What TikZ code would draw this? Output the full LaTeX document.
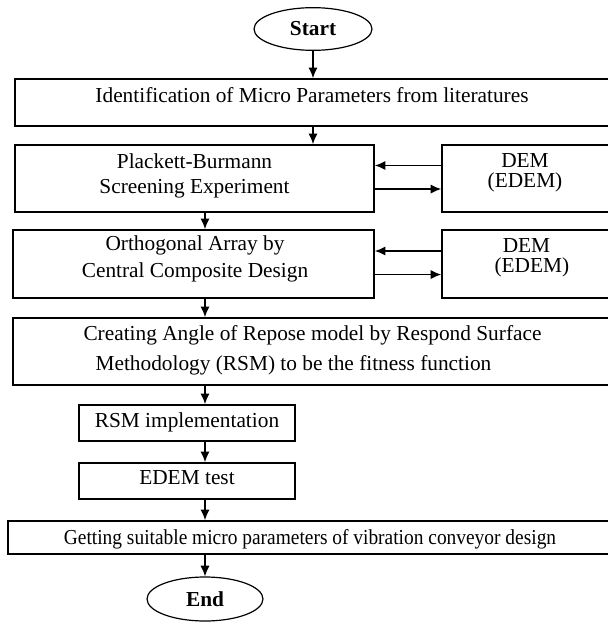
\documentclass[tikz,border=0pt]{standalone}
\usepackage{fontspec}
\setmainfont{Liberation Serif}
\usetikzlibrary{fit,shapes.geometric,arrows.meta}

\begin{document}
\begin{tikzpicture}[x=0.75pt,y=-0.75pt]
\tikzset{box/.style={draw=black,line width=1.2pt,inner sep=0mm}}
\tikzset{oval/.style={draw=black,ellipse,line width=0.9pt,inner sep=0mm,minimum width=88.5pt,minimum height=32pt,font=\fontsize{16}{19}\selectfont\bfseries}}
\tikzset{txt/.style={align=center,inner sep=0mm,font=\fontsize{16}{19.2}\selectfont}}
\tikzset{arrow/.style={draw=black,->,>={Latex[length=8pt,width=7pt]},line width=1.1pt}}

\useasboundingbox (0,0) rectangle (607,624);

\node[oval] (start) at (313,29) {Start};
\node[oval,minimum width=87pt,minimum height=33pt] (fin) at (205,599) {End};

\node[box,fit={(15,79) (609,126)}] (ident) {};
\node[box,fit={(15,145) (374,212)}] (pb) {};
\node[box,fit={(442,145) (609,212)}] (dem1) {};
\node[box,fit={(13,230) (374,298)}] (oa) {};
\node[box,fit={(442,230) (609,298)}] (dem2) {};
\node[box,fit={(13,318) (612,385)}] (model) {};
\node[box,fit={(79,405) (295,441)}] (impl) {};
\node[box,fit={(79,463) (295,499)}] (test) {};
\node[box,fit={(8,521) (612,554)}] (result) {};

\node[txt] (ident-t) at (312,95) {Identification of Micro Parameters from literatures};
\node[txt] (pb-t) at (194.5,176) {Plackett-Burmann\\Screening Experiment};
\node[txt] (dem1-t) at (525,173) {DEM\\[-4.5pt](EDEM)};
\node[txt] (oa-t) at (195,259) {Orthogonal Array by\\[1pt]Central Composite Design};
\node[txt] (dem2-t) at (526.5,257.5) {DEM\\[-4.5pt]\hspace*{8pt}(EDEM)};
\node[txt] (model-t) at (312.5,350) {Creating Angle of Repose model by Respond Surface\\[3.3pt]\hspace*{-28.5pt}Methodology (RSM) to be the fitness function};
\node[txt] (impl-t) at (187,422) {RSM implementation};
\node[txt] (test-t) at (187,478) {EDEM test};
\node[txt] (result-t) at (310,539) {\scalebox{0.91}[1]{Getting suitable micro parameters of vibration conveyor design}};

\draw[arrow] (start.south) -- (start.south |- ident.north);
\draw[arrow] (ident.south -| start) -- (pb.north -| start);

\foreach \a/\b in {pb/oa,oa/model,model/impl,impl/test,test/result,result/fin} {
  \draw[arrow] (\a.south -| fin) -- (\b.north -| fin);
}

\foreach \a/\b in {pb/dem1,oa/dem2} {
  \draw[arrow] ([yshift=9.75pt]\b.west) -- ([yshift=9.75pt]\a.east);
  \draw[arrow] ([yshift=-7.9pt]\a.east) -- ([yshift=-7.9pt]\b.west);
}
\end{tikzpicture}
\end{document}
